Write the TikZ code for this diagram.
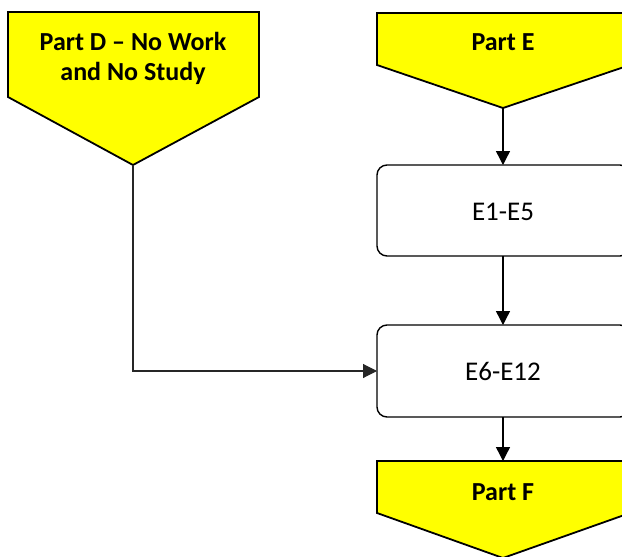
\documentclass[tikz,border=0pt]{standalone}
\usepackage{fontspec}
\setmainfont{Carlito}
\usetikzlibrary{arrows.meta}
\definecolor{partyellow}{RGB}{255,255,0}
\tikzset{
  partshape/.style={draw=black, fill=partyellow, line width=1.8pt, line join=miter},
  parttext/.style={font=\fontsize{26}{30}\selectfont\bfseries, align=center, inner sep=0pt},
  stepbox/.style={draw=black, line width=1.4pt, rounded corners=10pt},
  steptext/.style={font=\fontsize{27}{30}\selectfont, inner sep=0pt},
  flow/.style={line width=1.4pt, -{Triangle[length=14pt,width=14pt]}},
  flowthin/.style={line width=1.1pt, draw=black!85, -{Triangle[length=14pt,width=14pt]}}
}
\begin{document}
\begin{tikzpicture}[x=1pt,y=-1pt]
\useasboundingbox (0,0) rectangle (622,557);
\clip (0,0) rectangle (622,557);
% Part D
\draw[partshape] (8,12) -- (259,12) -- (259,97) -- (133,165) -- (8,97) -- cycle;
\coordinate (dtip) at (133,165);
\node[parttext, anchor=base] (dtext) at (133,80) {Part D – No Work\\and No Study};
% Part E
\draw[partshape] (377,13) -- (630,13) -- (630,65) -- (503,108) -- (377,65) -- cycle;
\coordinate (etip) at (503,108);
\node[parttext, anchor=base] (etext) at (503,50) {Part E};
% boxes
\draw[stepbox] (377,165) rectangle (630,256);
\coordinate (e1top) at (503,165);
\coordinate (e1bot) at (503,256);
\node[steptext, anchor=base] (e1) at (503,220) {E1-E5};
\draw[stepbox] (377,325) rectangle (630,417);
\coordinate (e6top) at (503,325);
\coordinate (e6bot) at (503,417);
\coordinate (e6left) at (377,371);
\node[steptext, anchor=base] (e6) at (503,380) {E6-E12};
% Part F
\draw[partshape] (377,461) -- (630,461) -- (630,513) -- (503,558) -- (377,513) -- cycle;
\coordinate (ftop) at (503,461);
\node[parttext, anchor=base] (ftext) at (503,500) {Part F};
% connectors
\draw[flow] (etip) -- (e1top);
\draw[flow] (e1bot) -- (e6top);
\draw[flow] (e6bot) -- (ftop);
\draw[flowthin] (dtip) |- (e6left);
\end{tikzpicture}
\end{document}
